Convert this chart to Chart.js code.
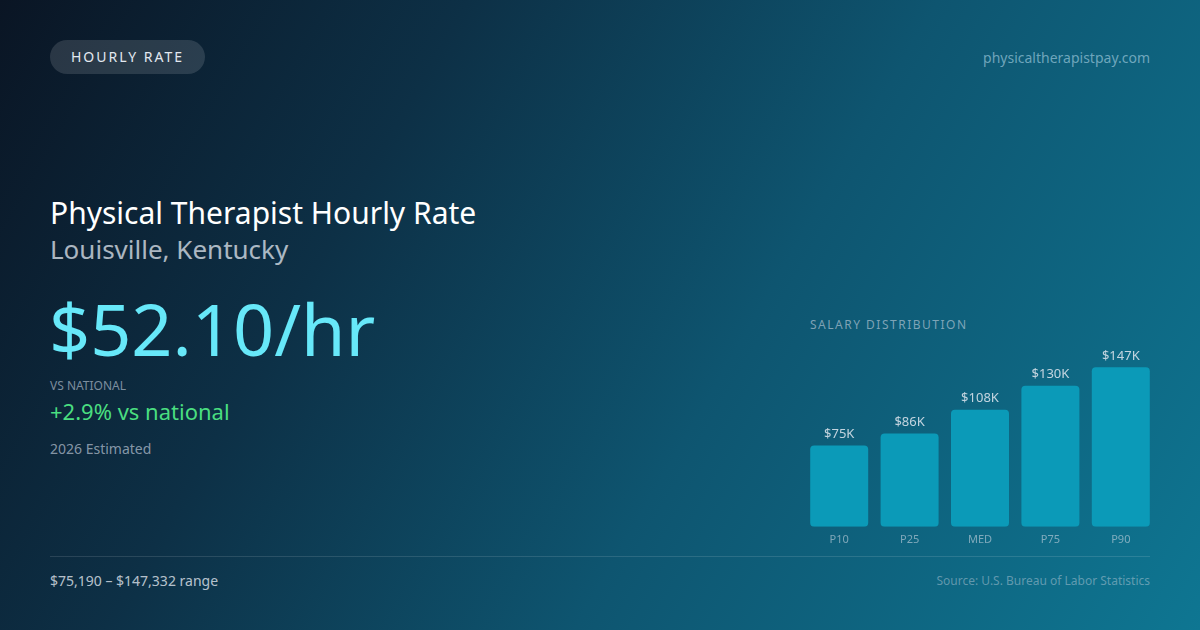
<!DOCTYPE html>
<html>
<head>
<meta charset="utf-8">
<script src="https://cdn.jsdelivr.net/npm/chart.js@4/dist/chart.umd.min.js"></script>
<style>
  html, body { margin: 0; padding: 0; }
  body {
    width: 1200px; height: 630px; overflow: hidden; position: relative;
    font-family: "Noto Sans", "Open Sans", sans-serif;
    background: linear-gradient(120deg, #0a1524 0%, #0d3046 30%, #0e5570 60%, #0e7692 100%);
  }
  .abs { position: absolute; line-height: 1; white-space: nowrap; }
  .pill {
    left: 50px; top: 40px; width: 155px; height: 34px; border-radius: 17px;
    background: rgba(255,255,255,0.13); color: #e2e8f0; font-size: 14px;
    letter-spacing: 2px; display: flex; align-items: center; justify-content: center;
  }
  .domain { right: 50px; top: 51px; font-size: 14px; color: rgba(150,195,215,0.72); }
  .title { left: 50px; top: 198px; font-size: 30px; color: #ffffff; }
  .sub { left: 50px; top: 236px; font-size: 26px; color: rgba(226,232,240,0.75); }
  .big { left: 49px; top: 292px; font-size: 72px; color: #67e8f9; }
  .vslbl { left: 50px; top: 380px; font-size: 12px; color: rgba(203,213,225,0.6); }
  .vs { left: 50px; top: 400px; font-size: 22px; color: #4ade80; }
  .est { left: 50px; top: 442px; font-size: 14px; color: rgba(203,213,225,0.65); }
  .dist { left: 810px; top: 319px; font-size: 12px; letter-spacing: 1.5px; color: rgba(203,213,225,0.6); }
  .rule { position: absolute; left: 50px; top: 556px; width: 1100px; height: 1px; background: rgba(255,255,255,0.12); }
  .range { left: 50px; top: 574px; font-size: 14px; color: rgba(226,232,240,0.8); }
  .src { right: 50px; top: 575px; font-size: 12px; color: rgba(203,213,225,0.45); }
  #wrap { position: absolute; left: 804px; top: 346px; width: 352px; height: 206px; }
</style>
</head>
<body>
<div class="abs pill">HOURLY RATE</div>
<div class="abs domain">physicaltherapistpay.com</div>
<div class="abs title">Physical Therapist Hourly Rate</div>
<div class="abs sub">Louisville, Kentucky</div>
<div class="abs big">$52.10/hr</div>
<div class="abs vslbl">VS NATIONAL</div>
<div class="abs vs">+2.9% vs national</div>
<div class="abs est">2026 Estimated</div>
<div class="abs dist">SALARY DISTRIBUTION</div>
<div class="rule"></div>
<div class="abs range">$75,190 – $147,332 range</div>
<div class="abs src">Source: U.S. Bureau of Labor Statistics</div>
<div id="wrap"><canvas id="myChart"></canvas></div>

<script>
// chart data
var percentiles = ["P10", "P25", "MED", "P75", "P90"];
var salaryK = [75, 86, 108, 130, 147];
var barLabels = ["$75K", "$86K", "$108K", "$130K", "$147K"];

// draws the value text over each bar
var valueLabels = {
    id: "valueLabels",
    afterDatasetsDraw: function (chart) {
        var ctx = chart.ctx;
        var meta = chart.getDatasetMeta(0);
        ctx.save();
        ctx.font = "13px 'Noto Sans'";
        ctx.fillStyle = "rgba(226,232,240,0.85)";
        ctx.textAlign = "center";
        ctx.textBaseline = "bottom";
        meta.data.forEach(function (bar, i) {
            ctx.fillText(barLabels[i], bar.x, bar.y - 5);
        });
        ctx.restore();
    }
};

new Chart(document.getElementById("myChart"), {
    type: "bar",
    data: {
        labels: percentiles,
        datasets: [{
            label: "salary",
            data: salaryK,
            backgroundColor: "#0b9ab8",
            borderRadius: 4,
            borderSkipped: false,
            categoryPercentage: 1,
            barPercentage: 0.824
        }]
    },
    options: {
        responsive: true,
        maintainAspectRatio: false,
        animation: false,
        layout: { padding: 0 },
        plugins: { legend: { display: false }, tooltip: { enabled: false } },
        scales: {
            x: {
                border: { display: false },
                grid: { display: false, drawTicks: false },
                ticks: { color: "rgba(203,213,225,0.6)", font: { size: 11, family: "Noto Sans" }, padding: 6 }
            },
            y: { display: false, min: 0, max: 166.7 }
        }
    },
    plugins: [valueLabels]
});
</script>
</body>
</html>
